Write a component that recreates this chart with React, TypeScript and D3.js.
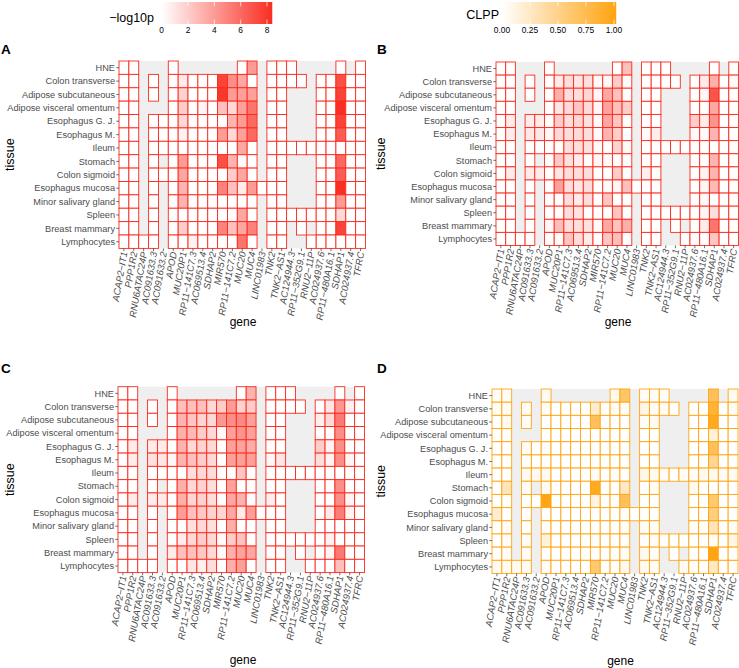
import * as d3 from "d3";

const genes = [
  "ACAP2−IT1", "PPP1R2", "RNU6ATAC24P", "AC091633.3", "AC091633.2", "APOD", "MUC20P1",
  "RP11−141C7.3", "AC069513.4", "SDHAP2", "MIR570", "RP11−141C7.2", "MUC20", "MUC4",
  "LINC01983", "TNK2", "TNK2−AS1", "AC124944.3", "RP11−352G9.1", "RNU2−11P", "AC024937.6",
  "RP11−480A16.1", "SDHAP1", "AC024937.4", "TFRC",
];
const tissues = [
  "HNE", "Colon transverse", "Adipose subcutaneous", "Adipose visceral omentum",
  "Esophagus G. J.", "Esophagus M.", "Ileum", "Stomach", "Colon sigmoid", "Esophagus mucosa",
  "Minor salivary gland", "Spleen", "Breast mammary", "Lymphocytes",
];
const _ = null;

// -log10p, eQTL panel
const valuesA = [
  [0, 0, _, _, _, 0, _, _, _, _, _, _, 0, 4, _, 0, 0, 0, _, _, _, _, 0, _, 0],
  [0, 0, _, 0, _, 0, 0.8, 0, 0, 0, 7.5, 4.5, 3.5, 0, _, 0, 0, 0, 0, _, 0, 0, 7, 0, 0],
  [0, 0, _, 0, _, 0, 1.8, 0, 0, 0, 8, 4, 3.8, 3.8, _, 0, 0, _, _, _, 0, 0, 7.5, 0, 0],
  [0, 0, _, _, _, 0, 2, 0, 0.4, 0, 2.5, 1.5, 3.8, 5.5, _, 0, 0, _, _, _, 0, 0, 8.3, 0, 0],
  [0, 0, _, 0, 0, 0, 1.5, 0, 0, 0, 0, 3, 4, 6, _, 0, 0, _, _, _, 0, 0, 7.5, 0, 0],
  [0, 0, _, 0, 0, 0, 0.5, 0, 0, 0, 4, 1.5, 3.8, 6, _, 0, 0, _, _, _, 0, 0, 6.5, 0, 0],
  [0, 0, _, 0, 0, 0, 0, 0, 0, 0, 0, 0, 3.5, 0, _, 0, 0, 0, 0, 0, 0, 0, 0, 0, 0],
  [0, 0, _, 0, _, 0, 4, 0, 0, 0, 7, 3, 0.2, 0, _, 0, 0, _, _, _, 0, 0, 6, 0, 0],
  [0, 0, _, 0, 0, 0, 3.5, 0, 0, 0, 0, 2, 3.5, 0, _, 0, 0, _, _, _, 0, 0, 6.5, 0, 0],
  [0, 0, _, 0, _, 0, 3, 0, 0, 0, 5, 2.5, 0.7, 4, 0, 0, 0, _, _, _, 0, 0, 8.3, 0, 0],
  [0, 0, _, 0, _, 0, 3, 0, 0, 0, 0, 0, 0, 0, _, 0, 0, _, _, _, 0, 0, 4, 0, 0],
  [0, 0, _, 0, _, 0, 0, 0, 0, 0, 0, 0, 3.5, 0, _, 0, 0, 0, 0, 0, 0, 0, 1.5, 0, 0],
  [0, 0, _, 0, _, 0, 2, 0, 0, 0, 5, 2.5, 3.5, 5, _, 0, 0, _, 0, _, 0, 0, 7.5, 0, 0],
  [0, 0, 0, 0, _, 0, 0, 0.5, 0, 0, 0, 0, 5.5, 0, _, 0, 0, _, _, 0, 0, 0, 0, 0, 0],
];

const valuesB = [
  [0, 0, _, _, _, 0, _, _, _, _, _, _, 0, 2.5, _, 0, 0, 0, _, _, _, _, 0, _, 0],
  [0, 0, _, 0, _, 0, 0.8, 1.3, 1, 1.2, 0.2, 0.3, 2, 0.2, _, 0, 0, 0, 0, _, 0, 0.8, 3.2, 0, 0.2],
  [0, 0, _, 0, _, 0, 3.2, 1.3, 1.3, 1.6, 0.3, 3.5, 2.5, 0, _, 0, 0, _, _, _, 0, 0.3, 6.8, 0, 0],
  [0, 0, _, _, _, 0, 1, 1.5, 2.3, 1.5, 0.3, 3.7, 2.5, 2, _, 0, 0, _, _, _, 0, 0, 3.5, 0, 0],
  [0, 0.8, _, 0.8, 0.8, 0, 2, 1.3, 1.6, 1.2, 0.2, 3.5, 2.3, 0, _, 0, 0, _, _, _, 2, 0.7, 4.3, 0, 0],
  [0, 0.8, _, 0.9, 0.9, 0.3, 1.5, 1.3, 1.5, 1.3, 0.2, 3, 2, 0, _, 0.2, 0.7, _, _, _, 0.2, 0.2, 3, 0, 0],
  [0, 0, _, 0, 0, 0, 0, 1.3, 1.3, 1.2, 0.2, 0, 1.7, 0.2, _, 0, 0, 0, 0, 0, 0, 0, 0, 0, 0],
  [0, 0, _, 0, _, 0, 2.2, 1.2, 0.8, 0.1, 0.3, 0.2, 0.1, 0.1, _, 0, 0, _, _, _, 0, 0, 3, 0, 0],
  [0, 0.8, _, 0.8, 0.8, 0, 1, 1.3, 1.3, 1.3, 0, 0, 2, 0, _, 0.6, 0, _, _, _, 0, 0.5, 3, 0, 0],
  [0, 0, _, 0, _, 0, 3.8, 1.3, 1, 1.3, 0, 0.2, 0.4, 2.5, 0, 0, 0, _, _, _, 0, 0.4, 2.8, 0, 0],
  [0, 0, _, 0, _, 0, 0, 1.3, 0.8, 1.3, 0, 2.3, 0, 0, _, 0, 0, _, _, _, 0, 0.2, 0, 0, 0],
  [0, 0, _, 0, _, 0, 0.1, 1.3, 1.1, 0.1, 0, 0.1, 2.3, 0, _, 0, 0, 0, 0, 0, 0, 0.4, 1.3, 0, 0],
  [0, 0, _, 0, _, 0.3, 2.6, 1.3, 1.3, 1.2, 0.2, 3.5, 2.4, 3.2, _, 0, 0, _, 0, _, 0, 0.8, 5.5, 0, 0],
  [0, 0, 0, 0, _, 0, 0.1, 2.3, 1.3, 0.8, 0, 2.3, 2.6, 0, _, 0, 0, _, _, 0, 0, 0, 2.3, 0, 0],
];

const valuesC = [
  [0, 0, _, _, _, 0, _, _, _, _, _, _, 0, 3, _, 0, 0, 0, _, _, _, _, 0, _, 0],
  [0, 0, _, 0, _, 0, 2.5, 2.5, 2.5, 1.5, 2, 4, 1.8, 2, _, 0, 0, 0, 0, _, 0, 1, 4.2, 0.6, 0],
  [0, 0, _, 0, _, 0, 3, 2.3, 1.7, 1.5, 4.2, 4.5, 4.7, 3.8, _, 0, 0, _, _, _, 0.6, 1.5, 5.3, 0, 0],
  [0, 0, _, _, _, 0, 3.2, 2.8, 2, 1.5, 0.2, 3.8, 4.3, 3.8, _, 0, 0, _, _, _, 0, 0, 4.5, 0, 0],
  [0, 0.8, _, 0.8, 0.8, 0, 3, 1.5, 1.7, 1.5, 0, 3.8, 3.7, 3.3, _, 0, 0, _, _, _, 2, 0.5, 4.5, 0, 0],
  [0, 0.8, _, 1.2, 1, 0.3, 3, 2.5, 2, 1.5, 0, 3.8, 3.8, 3.8, _, 0.3, 1, _, _, _, 1.3, 0.5, 4.5, 0.4, 0],
  [0, 0, _, 0, 0, 0, 0, 1.3, 1.5, 1.4, 0, 0, 2.3, 0, _, 0, 0, 0, 0, 0, 0, 0, 0, 0, 0],
  [0, 0, _, 0, _, 0, 3.2, 1.5, 1.8, 1.3, 0, 3.7, 0, 0, _, 0, 0, _, _, _, 0, 0, 4.5, 0, 0],
  [0, 0.8, _, 0.8, 0.8, 0, 3.2, 1.6, 1.8, 1.3, 0.1, 3.5, 3, 0, _, 0.6, 0, _, _, _, 0, 0, 4.5, 0.4, 0],
  [0, 0, _, 0, _, 0, 4, 2.5, 2.2, 1.8, 1.6, 3.5, 0.8, 3.8, 0, 0, 0, _, _, _, 0, 0.8, 5.2, 0.5, 0],
  [0, 0, _, 0, _, 0, 0, 1.2, 1.5, 1.2, 0, 3.2, 0, 0, _, 0, 0, _, _, _, 0, 0, 0, 0, 0],
  [0, 0, _, 0, _, 0, 0.7, 1.5, 2, 1.5, 0.2, 2, 2.4, 0, _, 0, 0, 0, 0, 0, 0, 0.5, 0, 0, 0],
  [0, 0, _, 0, _, 0.8, 2.5, 2.5, 2.2, 1.5, 0.2, 3.2, 3.7, 3.5, _, 0, 0, _, 0, _, 0, 0.4, 5.3, 0, 0],
  [0, 0, 0, 0, _, 0, 0, 1, 0.6, 1.3, 0, 3.2, 3.8, 0, _, 0, 0, _, _, 0, 0, 0, 2.5, 0, 0],
];

// CLPP panel
const valuesD = [
  [0.03, 0.03, _, _, _, 0.05, _, _, _, _, _, _, 0.08, 0.65, _, 0.03, 0.03, 0.03, _, _, _, _, 0.7, _, 0.05],
  [0.03, 0.03, _, 0.03, _, 0.02, 0, 0, 0, 0, 0.2, 0, 0.03, 0.02, _, 0.1, 0.04, 0.03, 0.01, _, 0, 0, 0.85, 0, 0.03],
  [0, 0.07, _, 0.03, _, 0, 0, 0, 0, 0, 0.7, 0, 0, 0, _, 0.02, 0.07, _, _, _, 0, 0, 0.95, 0, 0],
  [0, 0.02, _, _, _, 0, 0, 0, 0, 0, 0, 0, 0, 0, _, 0, 0, _, _, _, 0, 0, 0.17, 0, 0],
  [0, 0, _, 0.03, 0, 0.03, 0, 0, 0, 0, 0, 0, 0, 0, _, 0, 0, _, _, _, 0, 0, 0.7, 0, 0],
  [0, 0, _, 0, 0, 0, 0, 0, 0, 0, 0, 0, 0, 0, _, 0, 0, _, _, _, 0, 0, 0.45, 0, 0],
  [0, 0, _, 0.06, 0.06, 0.06, 0, 0, 0, 0, 0.04, 0, 0.02, 0, _, 0.1, 0.06, 0.03, 0, 0.03, 0.03, 0.06, 0.08, 0.03, 0.05],
  [0, 0.3, _, 0.04, _, 0.06, 0, 0, 0, 0, 0.95, 0, 0, 0.25, _, 0, 0.05, _, _, _, 0.07, 0, 0, 0, 0],
  [0, 0, _, 0, 0, 1, 0, 0, 0, 0, 0.12, 0, 0, 0.7, _, 0, 0, _, _, _, 0, 0, 0.6, 0, 0],
  [0.2, 0, _, 0, _, 0, 0, 0, 0, 0, 0, 0, 0, 0.02, 0, 0.02, 0, _, _, _, 0, 0, 0.55, 0, 0],
  [0, 0.03, _, 0, _, 0.02, 0, 0, 0, 0, 0, 0, 0, 0.03, _, 0.03, 0.03, _, _, _, 0.02, 0.02, 0.3, 0.01, 0.03],
  [0, 0.03, _, 0.03, _, 0.15, 0, 0, 0, 0, 0.02, 0, 0, 0, _, 0, 0.03, 0.02, 0, 0, 0, 0, 0.03, 0, 0.1],
  [0, 0.02, _, 0.03, _, 0, 0, 0, 0, 0, 0, 0, 0, 0.03, _, 0.06, 0.02, _, 0, _, 0, 0, 1, 0, 0],
  [0.05, 0.05, 0.05, 0.05, _, 0.03, 0, 0, 0, 0, 0.6, 0, 0, 0.07, _, 0.07, 0.03, _, _, 0.05, 0.02, 0.02, 0.25, 0, 0.02],
];

const logpTicks = [0, 2, 4, 6, 8];
const clppTicks = [0, 0.25, 0.5, 0.75, 1];

const RED = "#fa2a1e";
const ORANGE = "#ffa514";
const FONT = "'Liberation Sans', Arial, sans-serif";
const logpColor = d3.scaleLinear<string>().domain([0, 8.5]).range(["#ffffff", RED]);
const clppColor = d3.scaleLinear<string>().domain([0, 1]).range(["#ffffff", ORANGE]);

function Heatmap({ letter, letterX, letterY, values, color, stroke, left, right, top, bottom, titleX, geneX, geneY }) {
  const x = d3.scaleBand().domain(genes).range([left, right]);
  const y = d3.scaleBand().domain(tissues).range([top, bottom]);
  const cx = (g) => x(g) + x.bandwidth() / 2;
  const cy = (t) => y(t) + y.bandwidth() / 2;

  return (
    <g fontFamily={FONT}>
      <text x={letterX} y={letterY} fontSize={13.5} fontWeight="bold" fill="#000">{letter}</text>
      <rect x={left} y={top} width={right - left} height={bottom - top} fill="#efefef" />

      {values.map((row, i) =>
        row.map((v, j) =>
          v === null ? null : (
            <rect
              key={i + "-" + j}
              x={x(genes[j])}
              y={y(tissues[i])}
              width={x.bandwidth()}
              height={y.bandwidth()}
              fill={color(v)}
              stroke={stroke}
              strokeWidth={0.9}
            />
          )
        )
      )}

      {tissues.map((t) => (
        <g key={t}>
          <line x1={left - 2.7} x2={left} y1={cy(t)} y2={cy(t)} stroke="#333" strokeWidth={0.7} />
          <text x={left - 4} y={cy(t) + 3.2} textAnchor="end" fontSize={9.2} fill="#4d4d4d">{t}</text>
        </g>
      ))}

      {genes.map((g) => (
        <g key={g}>
          <line x1={cx(g)} x2={cx(g)} y1={bottom} y2={bottom + 2.7} stroke="#333" strokeWidth={0.7} />
          <text
            transform={`translate(${cx(g) + 3.6},${bottom + 4}) rotate(-80)`}
            textAnchor="end"
            fontSize={9.5}
            fontStyle="italic"
            fill="#4d4d4d"
          >
            {g}
          </text>
        </g>
      ))}

      <text
        transform={`translate(${titleX},${(top + bottom) / 2}) rotate(-90)`}
        textAnchor="middle"
        fontSize={12.5}
        fill="#000"
      >
        tissue
      </text>
      <text x={geneX} y={geneY} textAnchor="middle" fontSize={12} fill="#000">gene</text>
    </g>
  );
}

function ColorBar({ id, title, titleX, titleY, ticks, format, color, scale, domain }) {
  const [x0, x1] = [scale(domain[0]), scale(domain[1])];
  const stops = d3.range(0, 1.001, 0.1);
  return (
    <g fontFamily={FONT}>
      <defs>
        <linearGradient id={id}>
          {stops.map((s) => (
            <stop key={s} offset={s} stopColor={color(domain[0] + s * (domain[1] - domain[0]))} />
          ))}
        </linearGradient>
      </defs>
      <text x={titleX} y={titleY} textAnchor="end" fontSize={12.5} fill="#000">{title}</text>
      <rect x={x0} y={2} width={x1 - x0} height={22} fill={`url(#${id})`} />
      {ticks.map((t) => (
        <g key={t}>
          <line x1={scale(t)} x2={scale(t)} y1={2} y2={6.4} stroke="#fff" strokeWidth={0.7} />
          <line x1={scale(t)} x2={scale(t)} y1={19.6} y2={24} stroke="#fff" strokeWidth={0.7} />
          <text x={scale(t)} y={33} textAnchor="middle" fontSize={8.4} fill="#000">{format(t)}</text>
        </g>
      ))}
    </g>
  );
}

export default function App() {
  const logpScale = d3.scaleLinear().domain([0, 8]).range([161.7, 267]);
  const clppScale = d3.scaleLinear().domain([0, 1]).range([502, 614]);
  return (
    <svg
      width={739}
      height={668}
      style={{ position: "absolute", left: 0, top: 0, background: "#fff" }}
    >
      <ColorBar
        id="logp"
        title="−log10p"
        titleX={154}
        titleY={22}
        ticks={logpTicks}
        format={(t) => String(t)}
        color={logpColor}
        scale={logpScale}
        domain={[0, 8.4]}
      />
      <ColorBar
        id="clpp"
        title="CLPP"
        titleX={499}
        titleY={19}
        ticks={clppTicks}
        format={d3.format(".2f")}
        color={clppColor}
        scale={clppScale}
        domain={[0, 1.02]}
      />
      <Heatmap letter="A" letterX={1} letterY={54} values={valuesA} color={logpColor} stroke={RED}
        left={119} right={365.5} top={61} bottom={248.4} titleX={14} geneX={243} geneY={326} />
      <Heatmap letter="B" letterX={377} letterY={54} values={valuesB} color={logpColor} stroke={RED}
        left={496} right={738.5} top={62} bottom={245.5} titleX={385} geneX={618} geneY={326} />
      <Heatmap letter="C" letterX={1} letterY={373} values={valuesC} color={logpColor} stroke={RED}
        left={118} right={364.5} top={386.7} bottom={572.6} titleX={14} geneX={243} geneY={664} />
      <Heatmap letter="D" letterX={377} letterY={373} values={valuesD} color={clppColor} stroke={ORANGE}
        left={492} right={738} top={389} bottom={573.5} titleX={385} geneX={620.5} geneY={664.5} />
    </svg>
  );
}
